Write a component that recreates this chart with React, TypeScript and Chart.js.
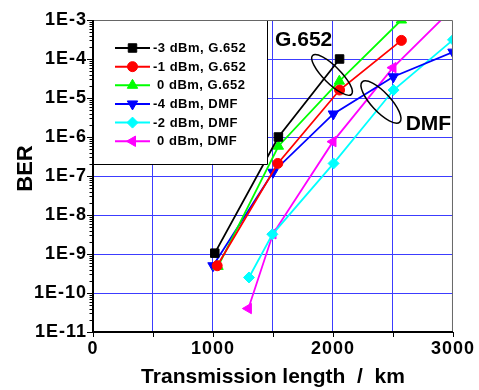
import React, { useEffect, useRef } from 'react';
import { Chart, registerables } from 'chart.js';
import { drawPoint } from 'chart.js/helpers';

Chart.register(...registerables);

const FONT = '"Liberation Sans", Arial, sans-serif';

const seriesLabels = ['-3 dBm, G.652', '-1 dBm, G.652', ' 0 dBm, G.652', '-4 dBm, DMF', '-2 dBm, DMF', ' 0 dBm, DMF'];

const g3X = [1015, 1545, 2055];
const g3Y = [1.05e-9, 1e-6, 1e-4];
const g1X = [1035, 1540, 2055, 2570];
const g1Y = [5e-10, 2.1e-7, 1.6e-5, 3e-4];
const g0X = [1042, 1545, 2053, 2570];
const g0Y = [4.8e-10, 5.8e-7, 2.7e-5, 1e-3];
const d4X = [1000, 1500, 2003, 2503, 3000];
const d4Y = [5e-10, 1.25e-7, 3.9e-6, 3.5e-5, 1.5e-4];
const d2X = [1300, 1495, 2005, 2505, 3000];
const d2Y = [2.5e-10, 3.2e-9, 2.1e-7, 1.6e-5, 3.1e-4];
const d0X = [1295, 1500, 2000, 2500, 3000];
const d0Y = [4e-11, 3.3e-9, 7.6e-7, 6e-5, 2e-3];

const seriesX = [g3X, g1X, g0X, d4X, d2X, d0X];
const seriesY = [g3Y, g1Y, g0Y, d4Y, d2Y, d0Y];
const seriesColors = ['#000000', '#ff0000', '#00ff00', '#0000ff', '#00ffff', '#ff00ff'];
const seriesStyles = ['rect', 'circle', 'triangle', 'triangle', 'rectRot', 'triangle'];
const seriesRotations = [0, 0, 0, 180, 0, -90];
const seriesRadii = [6, 5, 6, 6, 5.5, 6];

const yDecades = [1e-11, 1e-10, 1e-9, 1e-8, 1e-7, 1e-6, 1e-5, 1e-4, 1e-3];
const xTickValues = [0, 500, 1000, 1500, 2000, 2500, 3000];
const xLabelValues = [0, 1000, 2000, 3000];

const xTitle = 'Transmission length  /  km';
const yTitle = 'BER';

const annotations = [
  { text: 'G.652', x: 1517, y: 2.1e-4 },
  { text: 'DMF', x: 2606, y: 1.55e-6 },
];
const ellipses = [
  { x: 1992, y: 3.9e-5, a: 27.5, b: 8.5, rot: 45 },
  { x: 2400, y: 7.9e-6, a: 27.5, b: 9.5, rot: 47 },
];

const decorPlugin = {
  id: 'decor',
  beforeDraw(chart: any) {
    (chart.ctx as any).letterSpacing = '1px';
  },
  afterDraw(chart: any) {
    const ctx = chart.ctx as CanvasRenderingContext2D;
    const area = chart.chartArea;
    const xs = chart.scales.x;
    const ys = chart.scales.y;
    ctx.save();
    (ctx as any).letterSpacing = '0px';

    // annotations: ellipses and labels
    ctx.strokeStyle = '#000';
    ctx.lineWidth = 1.5;
    ellipses.forEach((e) => {
      ctx.beginPath();
      ctx.ellipse(xs.getPixelForValue(e.x), ys.getPixelForValue(e.y), e.a, e.b, (e.rot * Math.PI) / 180, 0, Math.PI * 2);
      ctx.stroke();
    });
    ctx.fillStyle = '#000';
    ctx.font = `bold 21px ${FONT}`;
    ctx.textAlign = 'left';
    ctx.textBaseline = 'alphabetic';
    annotations.forEach((t) => {
      ctx.fillText(t.text, xs.getPixelForValue(t.x), ys.getPixelForValue(t.y));
    });

    // legend box
    const lx = area.left;
    const ly = area.top;
    const lw = 174;
    const lh = 144;
    ctx.fillStyle = '#fff';
    ctx.fillRect(lx, ly, lw, lh);
    ctx.strokeStyle = '#000';
    ctx.lineWidth = 1;
    ctx.beginPath();
    ctx.rect(lx + 0.5, ly + 0.5, lw, lh);
    ctx.stroke();
    chart.data.datasets.forEach((ds: any, i: number) => {
      const ry = ly + 28 + i * 18.65;
      ctx.strokeStyle = ds.borderColor;
      ctx.lineWidth = 2;
      ctx.beginPath();
      ctx.moveTo(lx + 22, ry);
      ctx.lineTo(lx + 57, ry);
      ctx.stroke();
      ctx.fillStyle = ds.pointBackgroundColor;
      ctx.strokeStyle = ds.borderColor;
      ctx.lineWidth = 1;
      drawPoint(ctx, { pointStyle: ds.pointStyle, rotation: ds.pointRotation, radius: ds.pointRadius, borderWidth: 1 } as any, lx + 39.5, ry);
      ctx.fillStyle = '#000';
      ctx.font = `bold 13px ${FONT}`;
      (ctx as any).letterSpacing = '0.5px';
      ctx.textAlign = 'left';
      ctx.textBaseline = 'middle';
      ctx.fillText(ds.label, lx + 60, ry + 0.5);
      (ctx as any).letterSpacing = '0px';
    });

    // frame
    ctx.strokeStyle = '#666';
    ctx.lineWidth = 1;
    ctx.beginPath();
    ctx.moveTo(area.left, area.top + 0.5);
    ctx.lineTo(area.right - 0.5, area.top + 0.5);
    ctx.lineTo(area.right - 0.5, area.bottom);
    ctx.stroke();
    ctx.strokeStyle = '#000';
    ctx.lineWidth = 2;
    ctx.beginPath();
    ctx.moveTo(area.left, area.top);
    ctx.lineTo(area.left, area.bottom);
    ctx.lineTo(area.right, area.bottom);
    ctx.stroke();

    // y ticks (major + minor)
    ctx.lineWidth = 1;
    ctx.beginPath();
    yDecades.forEach((v, i) => {
      const y = Math.round(ys.getPixelForValue(v)) + 0.5;
      ctx.moveTo(area.left - 6, y);
      ctx.lineTo(area.left, y);
      if (i < yDecades.length - 1) {
        for (let m = 2; m <= 9; m++) {
          const ym = Math.round(ys.getPixelForValue(v * m)) + 0.5;
          ctx.moveTo(area.left - 3.5, ym);
          ctx.lineTo(area.left, ym);
        }
      }
    });
    // x ticks
    xTickValues.forEach((v) => {
      const x = Math.round(xs.getPixelForValue(v)) + 0.5;
      ctx.moveTo(x, area.bottom);
      ctx.lineTo(x, area.bottom + 5);
    });
    ctx.stroke();

    // axis titles
    ctx.fillStyle = '#000';
    ctx.font = `bold 21px ${FONT}`;
    ctx.textAlign = 'center';
    ctx.textBaseline = 'alphabetic';
    ctx.fillText(xTitle, (area.left + area.right) / 2, 383);
    ctx.save();
    ctx.translate(32, 168.5);
    ctx.rotate(-Math.PI / 2);
    ctx.font = `bold 22px ${FONT}`;
    ctx.fillText(yTitle, 0, 0);
    ctx.restore();

    ctx.restore();
  },
};

export default function App() {
  const ref = useRef<HTMLCanvasElement>(null);
  useEffect(() => {
    document.body.style.margin = '0';
    const canvas = ref.current!;
    const datasets = seriesLabels.map((label, i) => ({
      label,
      data: seriesX[i].map((x, j) => ({ x, y: seriesY[i][j] })),
      borderColor: seriesColors[i],
      backgroundColor: seriesColors[i],
      pointBackgroundColor: seriesColors[i],
      pointBorderColor: seriesColors[i],
      pointStyle: seriesStyles[i],
      pointRotation: seriesRotations[i],
      pointRadius: seriesRadii[i],
      pointBorderWidth: 1,
      borderWidth: 1.8,
      tension: 0,
      fill: false,
    }));
    const chart = new Chart(canvas, {
      type: 'line',
      data: { datasets },
      plugins: [decorPlugin],
      options: {
        animation: false,
        responsive: false,
        maintainAspectRatio: false,
        events: [],
        layout: { padding: { top: 20, right: 26, left: 0, bottom: 0 } },
        plugins: { legend: { display: false }, tooltip: { enabled: false }, title: { display: false } },
        scales: {
          x: {
            type: 'linear',
            min: 0,
            max: 3000,
            afterFit: (s: any) => { s.height = 58; },
            afterBuildTicks: (s: any) => { s.ticks = xTickValues.map((v) => ({ value: v })); },
            ticks: {
              autoSkip: false,
              maxRotation: 0,
              padding: 6,
              color: '#000',
              font: { family: FONT, size: 18, weight: 'bold' },
              callback: (v: any) => (xLabelValues.includes(Number(v)) ? String(v) : ''),
            },
            grid: {
              drawTicks: false,
              lineWidth: 1,
              color: (c: any) => (c.tick && (c.tick.value === 0 || c.tick.value === 3000) ? 'rgba(0,0,0,0)' : '#3c3cff'),
            },
            border: { display: false },
          },
          y: {
            type: 'logarithmic',
            min: 1e-11,
            max: 1e-3,
            afterFit: (s: any) => { s.width = 93; },
            afterBuildTicks: (s: any) => { s.ticks = yDecades.map((v) => ({ value: v, major: true })); },
            ticks: {
              autoSkip: false,
              padding: 6,
              color: '#000',
              font: { family: FONT, size: 18, weight: 'bold' },
              callback: (v: any) => '1E' + Math.round(Math.log10(Number(v))),
            },
            grid: {
              drawTicks: false,
              lineWidth: 1,
              color: (c: any) => (c.tick && (c.tick.value <= 1.01e-11 || c.tick.value >= 0.99e-3) ? 'rgba(0,0,0,0)' : '#3c3cff'),
            },
            border: { display: false },
          },
        },
      } as any,
    });
    return () => chart.destroy();
  }, []);
  return <canvas ref={ref} width={479} height={390} style={{ display: 'block', width: 479, height: 390 }} />;
}
